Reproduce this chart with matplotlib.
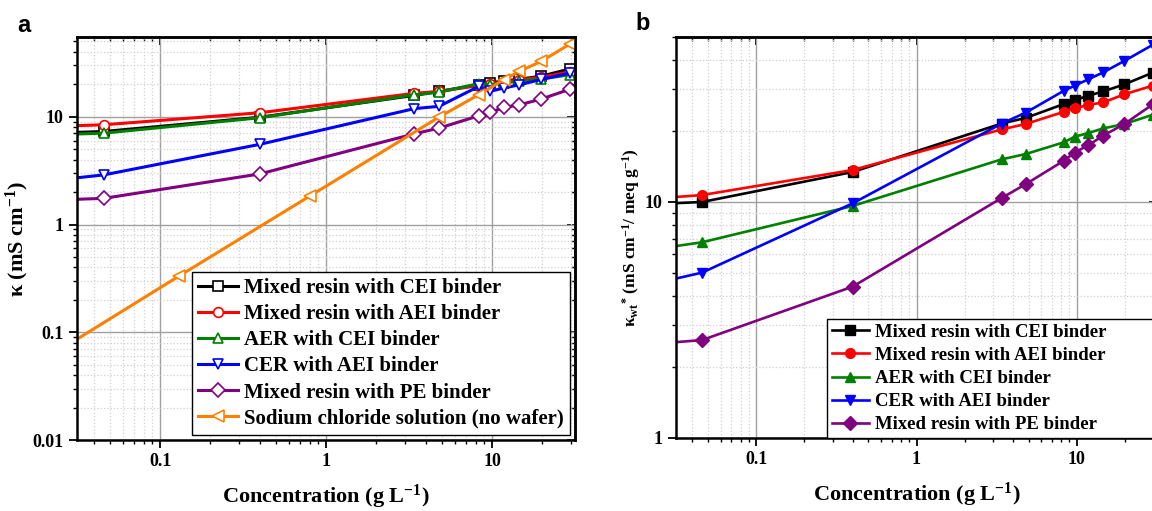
import matplotlib
matplotlib.use("Agg")
import matplotlib.pyplot as plt
from matplotlib.ticker import FuncFormatter, NullFormatter, LogLocator

plt.rcParams['font.family'] = 'Liberation Serif'
plt.rcParams['font.weight'] = 'bold'
plt.rcParams['axes.labelweight'] = 'bold'
plt.rcParams['mathtext.fontset'] = 'custom'
plt.rcParams['mathtext.rm'] = 'Liberation Serif:bold'
plt.rcParams['mathtext.it'] = 'Liberation Serif:bold'
plt.rcParams['mathtext.bf'] = 'Liberation Serif:bold'

# concentrations (g/L); first value sits just left of the visible range
conc = [0.03, 0.046, 0.4, 3.4, 4.8, 8.3, 9.7, 11.8, 14.6, 19.8, 29.7]
nacl_conc = [0.03, 0.13, 0.8, 4.8, 8.3, 11.8, 14.6, 19.8, 29.7]

labels = ["Mixed resin with CEI binder", "Mixed resin with AEI binder",
          "AER with CEI binder", "CER with AEI binder",
          "Mixed resin with PE binder"]
nacl_label = "Sodium chloride solution (no wafer)"

# panel a: conductivity (mS/cm)
kappa_cei = [7.15, 7.3, 9.9, 15.8, 17.2, 19.8, 20.6, 21.5, 22.3, 23.8, 27.9]
kappa_aei = [8.25, 8.43, 10.9, 16.5, 17.2, 19.5, 20.2, 21.0, 22.0, 23.3, 26.2]
kappa_aer = [6.9, 7.05, 9.8, 16.0, 16.9, 20.3, 19.9, 20.6, 21.4, 22.4, 24.6]
kappa_cer = [2.69, 2.89, 5.55, 11.9, 12.5, 19.1, 17.2, 18.5, 19.8, 22.2, 25.5]
kappa_pe = [1.71, 1.75, 2.95, 6.94, 7.85, 10.2, 10.97, 12.2, 12.9, 14.6, 18.1]
kappa_nacl = [0.082, 0.332, 1.84, 9.93, 16.0, 22.1, 26.4, 32.7, 47.7]

# panel b: weight-normalised conductivity (mS cm-1 / meq g-1)
kwt_cei = [9.87, 10.0, 13.4, 21.5, 22.7, 26.0, 27.0, 28.2, 29.4, 31.5, 35.3]
kwt_aei = [10.47, 10.7, 13.66, 20.3, 21.4, 24.1, 24.9, 25.8, 26.4, 28.6, 31.1]
kwt_aer = [6.47, 6.75, 9.62, 15.16, 15.96, 17.9, 18.9, 19.6, 20.5, 21.4, 23.4]
kwt_cer = [4.70, 5.02, 9.87, 21.5, 23.9, 29.6, 31.1, 33.1, 35.4, 39.6, 46.3]
kwt_pe = [2.54, 2.60, 4.38, 10.4, 11.9, 14.96, 16.2, 17.4, 19.1, 21.4, 25.9]

colors = ['black', '#ff0000', '#008000', '#0000ff', '#800080']
nacl_color = '#ff8000'
markers = ['s', 'o', '^', 'v', 'D']

fmt = FuncFormatter(lambda v, p: '%g' % v)


def style_axes(ax):
    ax.set_xscale('log')
    ax.set_yscale('log')
    ax.set_xlim(10 ** -1.5, 10 ** 1.5)
    ax.grid(which='major', color='#a0a0a0', lw=1.0)
    ax.grid(which='minor', color='#d0d0d0', ls=':', lw=0.9)
    ax.set_axisbelow(True)
    for s in ax.spines.values():
        s.set_linewidth(1.8)
    ax.xaxis.set_major_formatter(fmt)
    ax.yaxis.set_major_formatter(fmt)
    ax.xaxis.set_minor_formatter(NullFormatter())
    ax.yaxis.set_minor_formatter(NullFormatter())
    ax.tick_params(which='major', direction='out', length=6, width=1.3, labelsize=13)
    ax.tick_params(which='minor', direction='out', length=3, width=1.0)
    # mirrored ticks pointing inwards
    top = ax.secondary_xaxis('top')
    top.tick_params(which='major', direction='in', length=6, width=1.3)
    top.tick_params(which='minor', direction='in', length=3, width=1.0)
    top.xaxis.set_major_formatter(NullFormatter())
    top.xaxis.set_minor_formatter(NullFormatter())
    top.spines['top'].set_linewidth(1.8)
    right = ax.secondary_yaxis('right')
    right.tick_params(which='major', direction='in', length=6, width=1.3)
    right.tick_params(which='minor', direction='in', length=3, width=1.0)
    right.yaxis.set_major_formatter(NullFormatter())
    right.yaxis.set_minor_formatter(NullFormatter())
    right.spines['right'].set_linewidth(1.8)
    ax.set_xlabel('Concentration (g L$^{-1}$)', fontsize=16, labelpad=9)


fig = plt.figure(figsize=(11.52, 5.11), dpi=100)
W, H = 1152, 511
ax1 = fig.add_axes([77 / W, 1 - 440 / H, (575 - 77) / W, (440 - 37) / H])
ax2 = fig.add_axes([676 / W, 1 - 438 / H, (1157 - 676) / W, (438 - 37) / H])

# panel a
series_a = [kappa_cei, kappa_aei, kappa_aer, kappa_cer, kappa_pe]
for vals, c, m, lab in zip(series_a, colors, markers, labels):
    ax1.plot(conc, vals, color=c, lw=2.2, marker=m, ms=7, mfc='white',
             mec=c, mew=1.2, markevery=slice(1, None), label=lab)
ax1.plot(nacl_conc, kappa_nacl, color=nacl_color, lw=2.2, marker='<', ms=8,
         mfc='white', mec=nacl_color, mew=1.2, markevery=slice(1, None),
         label=nacl_label)
style_axes(ax1)
ax1.set_ylim(0.01, 55)
ax1.set_ylabel('κ (mS cm$^{-1}$)', fontsize=16, labelpad=1)
leg = ax1.legend(loc='lower right', fontsize=15, fancybox=False, framealpha=1,
                 edgecolor='black', borderaxespad=0.25, borderpad=0.3,
                 labelspacing=0.29, handlelength=1.9, handletextpad=0.3)
leg.get_frame().set_linewidth(1.0)

# panel b
series_b = [kwt_cei, kwt_aei, kwt_aer, kwt_cer, kwt_pe]
for vals, c, m, lab in zip(series_b, colors, markers, labels):
    ax2.plot(conc, vals, color=c, lw=1.9, marker=m, ms=7, mfc=c, mec=c,
             markevery=slice(1, None), label=lab)
style_axes(ax2)
ax2.set_ylim(1, 50)
ax2.yaxis.set_minor_locator(LogLocator(base=10, subs=range(2, 10)))
ax2.set_ylabel(r'κ$_{\rm wt}$$^{*}$ (mS cm$^{-1}$/ meq g$^{-1}$)', fontsize=12.5, labelpad=2)
leg_x0 = (827 - 676) / (1157 - 676)
leg2 = ax2.legend(loc='lower left', bbox_to_anchor=(leg_x0, 0, 1 - leg_x0, 0.3),
                  mode='expand', fontsize=13.5, fancybox=False, framealpha=1,
                  edgecolor='black', borderaxespad=0.0, borderpad=0.25,
                  labelspacing=0.32, handlelength=2.0, handletextpad=0.3)
leg2.get_frame().set_linewidth(1.0)

fig.text(24 / W, 1 - 25 / H, 'a', fontsize=17, fontweight='bold',
         family='Liberation Sans', ha='center', va='center')
fig.text(643 / W, 1 - 24 / H, 'b', fontsize=17, fontweight='bold',
         family='Liberation Sans', ha='center', va='center')

fig.savefig('out.png', dpi=100)
